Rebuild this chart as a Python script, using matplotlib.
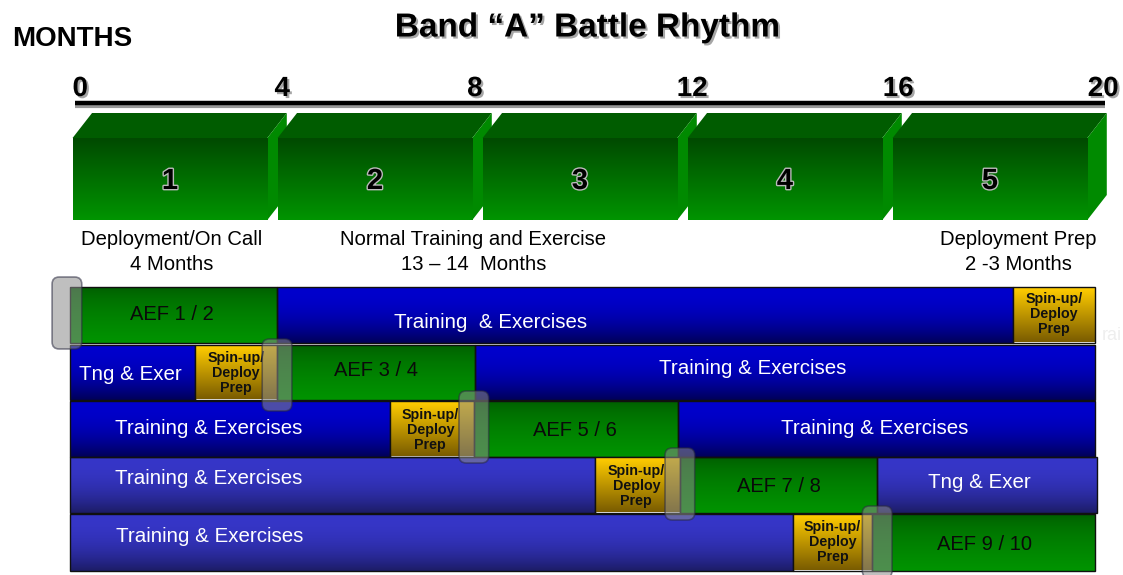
import numpy as np
import matplotlib.pyplot as plt
from matplotlib.colors import to_rgb
from matplotlib.patches import Rectangle, Polygon, FancyBboxPatch
import matplotlib.patheffects as pe

plt.rcParams['font.family'] = ['Liberation Sans', 'DejaVu Sans']

# ---- data ----
month_ticks = [0, 4, 8, 12, 16, 20]
phase_numbers = ['1', '2', '3', '4', '5']
phase_starts = [0, 4, 8, 12, 16]
phase_notes = ['Deployment/On Call\n4 Months',
               'Normal Training and Exercise\n13 \u2013 14  Months',
               'Deployment Prep\n2 -3 Months']
phase_note_x = [1.98, 7.87, 18.5]

row1 = [(0.0, 4.04, 'aef', 'AEF 1 / 2'),
        (4.04, 18.4, 'trn', 'Training  & Exercises'),
        (18.4, 20.0, 'spin', 'Spin-up/\nDeploy\nPrep')]
row2 = [(0.0, 2.44, 'trn', 'Tng & Exer'),
        (2.44, 4.04, 'spin', 'Spin-up/\nDeploy\nPrep'),
        (4.04, 7.9, 'aef', 'AEF 3 / 4'),
        (7.9, 20.0, 'trn', 'Training & Exercises')]
row3 = [(0.0, 6.24, 'trn', 'Training & Exercises'),
        (6.24, 7.88, 'spin', 'Spin-up/\nDeploy\nPrep'),
        (7.88, 11.86, 'aef', 'AEF 5 / 6'),
        (11.86, 20.0, 'trn', 'Training & Exercises')]
row4 = [(0.0, 10.24, 'trn', 'Training & Exercises'),
        (10.24, 11.9, 'spin', 'Spin-up/\nDeploy\nPrep'),
        (11.9, 15.75, 'aef', 'AEF 7 / 8'),
        (15.75, 20.04, 'trn', 'Tng & Exer')]
row5 = [(0.0, 14.1, 'trn', 'Training & Exercises'),
        (14.1, 15.65, 'spin', 'Spin-up/\nDeploy\nPrep'),
        (15.65, 20.0, 'aef', 'AEF 9 / 10')]
rows = [row1, row2, row3, row4, row5]
# AEF start months (gray markers)
marker_months = [-0.06, 4.04, 7.88, 11.9, 15.75]

# ---- layout ----
PX = 51.25                      # pixels per month
row_tops = [287, 345, 401, 457, 514]
row_h = [56, 55, 56, 56, 57]
# label positions (month x, pixel y) per row / segment
label_pos = [[(1.99, 315), (8.2, 322), (19.2, 314)],
             [(1.18, 374), (3.24, 373), (5.97, 371), (13.33, 368)],
             [(2.7, 428), (7.03, 430), (9.85, 430), (15.7, 428)],
             [(2.7, 478), (11.05, 486), (13.83, 487), (17.75, 482)],
             [(2.73, 536), (14.88, 542), (17.85, 544)]]

blue_dark = ('#0000cc', '#000058')
blue_light = ('#3636c8', '#1c1c66')
green_bar = ('#005a00', '#009400')
gold_bar = ('#ffcc00', '#7a5c00')

fig = plt.figure(figsize=(11.23, 5.75), dpi=100)
ax = fig.add_axes([0, 0, 1, 1])


def grad_rect(x0, x1, y0, y1, top, bottom, z=2, power=1.0):
    t = np.linspace(0, 1, 80) ** power
    c0 = np.array(to_rgb(top))
    c1 = np.array(to_rgb(bottom))
    img = c0[None, :] * (1 - t[:, None]) + c1[None, :] * t[:, None]
    ax.imshow(img[:, None, :], extent=(x0, x1, y1, y0), aspect='auto',
              interpolation='bilinear', zorder=z)


shadow = [pe.withSimplePatchShadow(offset=(1.5, -1.5), alpha=0.35)]

# title and header
ax.text(-1.13, 39, 'MONTHS', fontsize=20, fontweight='bold', va='center', ha='left')
ax.text((588 - 70) / PX, 28, 'Band \u201cA\u201d Battle Rhythm', fontsize=24,
        fontweight='bold', va='center', ha='center', path_effects=shadow)

# timeline
ax.plot([0.1, 20.2], [106, 106], color='#999999', lw=3, solid_capstyle='butt', zorder=1)
ax.plot([0.1, 20.2], [103, 103], color='black', lw=3.2, solid_capstyle='butt', zorder=2)
tick_shift = [0.2, 0.14, -0.1, 0.14, 0.16, 0.16]
for m, sh in zip(month_ticks, tick_shift):
    ax.text(m + sh, 89, str(m), fontsize=20, fontweight='bold', ha='center',
            va='center', path_effects=shadow)

# 3D phase boxes
dx, top_y, front_y, bot_y = 0.38, 113, 138, 220
for s, lab in zip(phase_starts, phase_numbers):
    x0, x1 = s + 0.05, s + 3.85
    ax.add_patch(Polygon([(x0, front_y), (x0 + dx, top_y), (x1 + dx, top_y), (x1, front_y)],
                         closed=True, facecolor='#005c00', edgecolor='none', zorder=2))
    ax.add_patch(Polygon([(x1, front_y), (x1 + dx, top_y), (x1 + dx, bot_y - 25), (x1, bot_y)],
                         closed=True, facecolor='#008a00', edgecolor='none', zorder=2))
    grad_rect(x0, x1, front_y, bot_y, '#004a00', '#009400', z=2)
    ax.text((x0 + x1) / 2, 181, lab, fontsize=21, fontweight='bold', ha='center',
            va='center', zorder=4,
            path_effects=[pe.withStroke(linewidth=2, foreground='#bbbbbb')])

for note, x in zip(phase_notes, phase_note_x):
    ax.text(x, 252, note, fontsize=14.6, ha='center', va='center', linespacing=1.45)

# faint ghost text at right edge
ax.text((1122 - 70) / PX, 336, 'rai', fontsize=13, color='#eeeeee', ha='right',
        va='center', zorder=0)

# rows of bars
for i, row in enumerate(rows):
    y0 = row_tops[i]
    y1 = y0 + row_h[i]
    blue = blue_dark if i < 3 else blue_light
    for (s, e, kind, lab), (lx, ly) in zip(row, label_pos[i]):
        if kind == 'trn':
            grad_rect(s, e, y0, y1, blue[0], blue[1], z=2, power=2.2)
            col, fs, fw = 'white', 14.8, 'normal'
        elif kind == 'aef':
            grad_rect(s, e, y0, y1, green_bar[0], green_bar[1], z=2, power=0.6)
            col, fs, fw = '#0a0a0a', 14.5, 'normal'
        else:
            grad_rect(s, e, y0 + 1, y1 - 1, gold_bar[0], gold_bar[1], z=3)
            col, fs, fw = '#111111', 10.3, 'bold'
        ax.add_patch(Rectangle((s, y0), e - s, y1 - y0, facecolor='none',
                               edgecolor='#101010', lw=1, zorder=3))
        ax.text(lx, ly, lab, color=col, fontsize=fs, fontweight=fw, ha='center',
                va='center', linespacing=1.05, zorder=5)

# translucent gray markers at AEF starts
centers = [313, 375, 427, 484, 542]
for m, cy in zip(marker_months, centers):
    w = 0.58
    h = 72
    ax.add_patch(FancyBboxPatch((m - w / 2, cy - h / 2), w, h,
                                boxstyle='round,pad=0,rounding_size=0.14',
                                mutation_aspect=PX, facecolor='#8c8c8c', alpha=0.55,
                                edgecolor='#2a2a40', lw=1.2, zorder=6))

ax.set_xlim(-70 / PX, (1123 - 70) / PX)
ax.set_ylim(575, 0)
ax.axis('off')
fig.savefig('out.png', dpi=100)
